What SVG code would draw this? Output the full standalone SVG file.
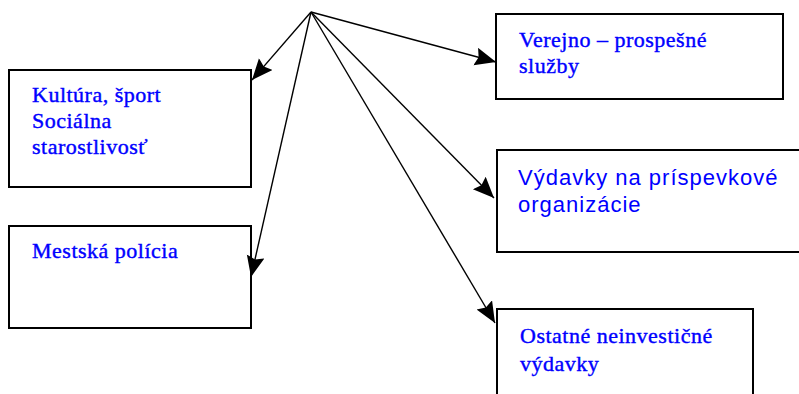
<svg xmlns="http://www.w3.org/2000/svg" width="799" height="394" viewBox="0 0 799 394">
<style>
  .box { fill: #ffffff; stroke: #000000; stroke-width: 2; }
  .serif { font-family: "Liberation Serif", "Times New Roman", serif; font-size: 22px; fill: #0000ff; stroke: #0000ff; stroke-width: 0.4; letter-spacing: 0.5px; }
  .sans { font-family: "Liberation Sans", Arial, sans-serif; font-size: 22px; fill: #0000ff; letter-spacing: 1px; }
  .conn { stroke: #000000; stroke-width: 1.4; fill: none; marker-end: url(#arrow); }
</style>
<defs>
  <marker id="arrow" markerUnits="userSpaceOnUse" markerWidth="24" markerHeight="20" refX="21" refY="9" orient="auto">
    <path d="M0,0 L21,9 L0,18 L3,9 Z" fill="#000000"/>
  </marker>
</defs>
<rect width="799" height="394" fill="#ffffff"/>
<g id="node-kultura">
  <rect class="box" x="9" y="70" width="242" height="117"/>
  <text class="serif" x="32" y="102">Kultúra, šport</text>
  <text class="serif" x="32" y="128">Sociálna</text>
  <text class="serif" x="32" y="154">starostlivosť</text>
</g>
<g id="node-policia">
  <rect class="box" x="9" y="226" width="242" height="102"/>
  <text class="serif" x="32" y="258">Mestská polícia</text>
</g>
<g id="node-verejno">
  <rect class="box" x="496" y="14" width="287" height="85"/>
  <text class="serif" x="519" y="47">Verejno – prospešné</text>
  <text class="serif" x="519" y="73">služby</text>
</g>
<g id="node-prispevkove">
  <rect class="box" x="497" y="150" width="310" height="102"/>
  <text class="sans" x="518" y="185">Výdavky na príspevkové</text>
  <text class="sans" x="518" y="212">organizácie</text>
</g>
<g id="node-ostatne">
  <rect class="box" x="497" y="309" width="256" height="100"/>
  <text class="serif" x="520" y="343">Ostatné neinvestičné</text>
  <text class="serif" x="520" y="371">výdavky</text>
</g>
<g id="connectors">
  <line class="conn" x1="311" y1="12" x2="252" y2="80"/>
  <line class="conn" x1="311" y1="12" x2="251" y2="277"/>
  <line class="conn" x1="311" y1="12" x2="496" y2="62"/>
  <line class="conn" x1="311" y1="12" x2="494" y2="198"/>
  <line class="conn" x1="311" y1="12" x2="495" y2="323"/>
</g>
</svg>
